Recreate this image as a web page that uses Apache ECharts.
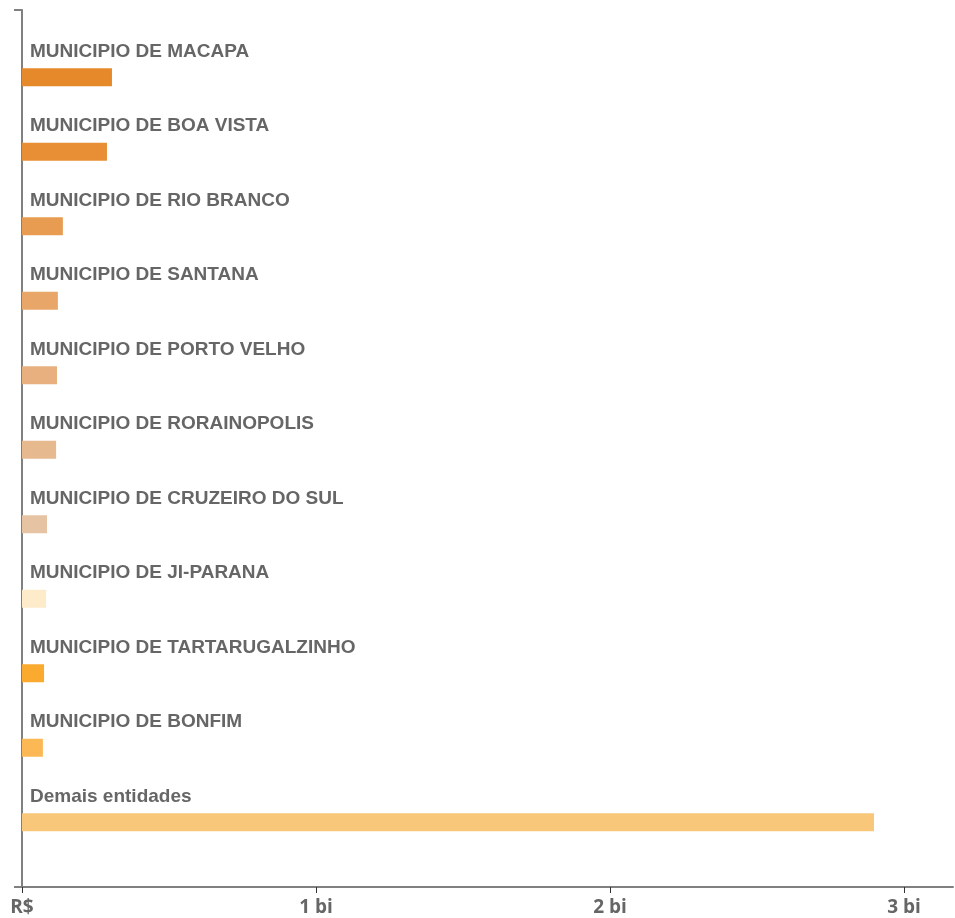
<!DOCTYPE html>
<html>
<head>
<meta charset="utf-8">
<script src="https://cdn.jsdelivr.net/npm/echarts@6/dist/echarts.min.js"></script>
<style>html,body{margin:0;padding:0;background:#fff}#c{width:955px;height:918px}</style>
</head>
<body>
<div id="c"></div>
<script>
var categories = ['MUNICIPIO DE MACAPA','MUNICIPIO DE BOA VISTA','MUNICIPIO DE RIO BRANCO','MUNICIPIO DE SANTANA','MUNICIPIO DE PORTO VELHO','MUNICIPIO DE RORAINOPOLIS','MUNICIPIO DE CRUZEIRO DO SUL','MUNICIPIO DE JI-PARANA','MUNICIPIO DE TARTARUGALZINHO','MUNICIPIO DE BONFIM','Demais entidades'];
var values = [0.306e9, 0.289e9, 0.139e9, 0.122e9, 0.119e9, 0.116e9, 0.085e9, 0.082e9, 0.075e9, 0.071e9, 2.898e9];
var palette = ['#E5892A','#E88F36','#E89C52','#E8A669','#E7B07E','#E6B98F','#E6C4A3','#FDEBC9','#FBAA30','#FBB854','#F9C77A'];
var tickValues = [0, 1e9, 2e9, 3e9];
var axisMax = 3.1667e9;

var chart = echarts.init(document.getElementById('c'));
chart.setOption({
  animation: false,
  grid: [
    {left: 22, right: 2, top: 10, bottom: 31},
    {left: 22, right: 2, top: 40, height: 819.5}
  ],
  xAxis: [
    {gridIndex: 0, type: 'value', min: 0, max: axisMax, interval: 1e9,
     splitLine: {show: false},
     axisLine: {show: true, lineStyle: {color: '#808080', width: 2}},
     axisTick: {show: true, customValues: tickValues, length: 6, lineStyle: {color: '#333', width: 1}},
     axisLabel: {customValues: tickValues, margin: 11, color: '#666', fontFamily: 'Open Sans', fontWeight: 'bold', fontSize: 19,
       formatter: function (v) { return v === 0 ? 'R$' : (v / 1e9) + ' bi'; }}},
    {gridIndex: 1, type: 'value', min: 0, max: axisMax, show: false, splitLine: {show: false}}
  ],
  yAxis: [
    {gridIndex: 0, type: 'value', min: 0, max: 1, interval: 1,
     splitLine: {show: false},
     axisLine: {show: true, lineStyle: {color: '#808080', width: 2}},
     axisTick: {show: true, length: 8, lineStyle: {color: '#808080', width: 2}},
     axisLabel: {show: false}},
    {gridIndex: 1, type: 'category', data: categories, inverse: true, show: false}
  ],
  series: [{
    type: 'bar', xAxisIndex: 1, yAxisIndex: 1,
    barWidth: 18,
    data: values.map(function (v, i) { return {value: v, itemStyle: {color: palette[i]}}; }),
    label: {show: true, position: [8, -7], align: 'left', verticalAlign: 'bottom',
      formatter: function (p) { return p.name; },
      color: '#666', fontFamily: 'Liberation Sans', fontWeight: 'bold', fontSize: 19}
  }]
});
</script>
</body>
</html>
